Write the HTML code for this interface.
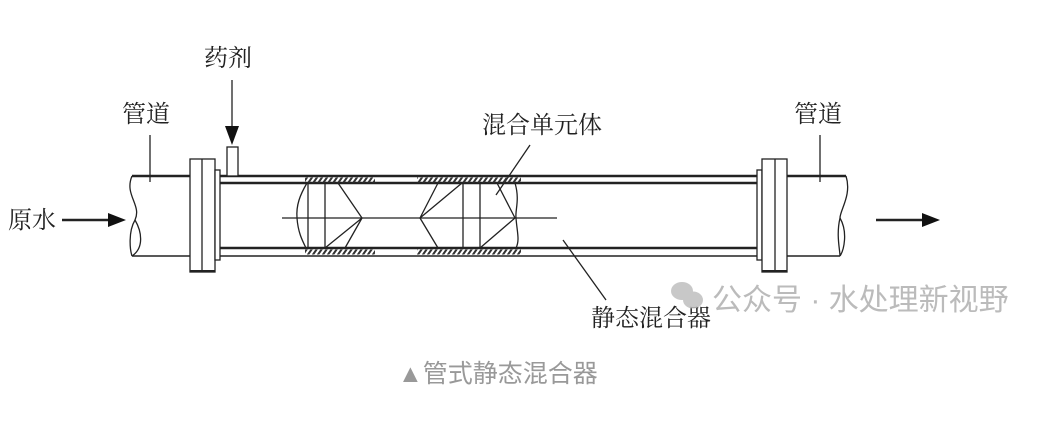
<!DOCTYPE html>
<html><head><meta charset="utf-8"><style>
html,body{margin:0;padding:0;background:#fff;}
svg{display:block;}
.l{font-family:"Liberation Serif","Noto Serif CJK SC",serif;font-size:24px;fill:#222;}
</style></head><body>
<svg width="1050" height="424" viewBox="0 0 1050 424" xmlns="http://www.w3.org/2000/svg">
<defs>
<pattern id="h" width="5" height="7" patternUnits="userSpaceOnUse" patternTransform="skewX(-35)">
<rect x="0" y="0" width="2.5" height="7" fill="#333"/>
</pattern>
</defs>
<g stroke="#222" fill="none" stroke-width="1.3">
<line x1="132" y1="176" x2="190" y2="176" stroke-width="2.5"/>
<line x1="132" y1="256" x2="190" y2="256" stroke-width="1.5"/>
<path d="M132 176 C124 195,142 205,135 220 C128 232,130 250,132 256"/>
<path d="M135 220 C142 232,144 248,132 256"/>
<rect x="190" y="159" width="25" height="113" fill="#fff"/>
<line x1="202" y1="159" x2="202" y2="272"/>
<line x1="190" y1="271" x2="215" y2="271" stroke-width="2"/>
<rect x="215" y="170" width="5" height="90" fill="#fff"/>
<line x1="220" y1="176" x2="757" y2="176" stroke-width="2.5"/>
<line x1="220" y1="183" x2="757" y2="183" stroke-width="2.5"/>
<line x1="220" y1="248" x2="757" y2="248" stroke-width="2.5"/>
<line x1="220" y1="256" x2="757" y2="256" stroke-width="1.5"/>
<rect x="227" y="147" width="11" height="29" fill="#fff"/>
<line x1="232" y1="80" x2="232" y2="130"/>
<rect x="757" y="170" width="5" height="90" fill="#fff"/>
<rect x="762" y="159" width="25" height="113" fill="#fff"/>
<line x1="775" y1="159" x2="775" y2="272"/>
<line x1="762" y1="271" x2="787" y2="271" stroke-width="2"/>
<line x1="787" y1="176" x2="846" y2="176" stroke-width="2.5"/>
<line x1="787" y1="256" x2="840" y2="256" stroke-width="1.5"/>
<path d="M846 176 C852 195,840 210,840 218 C836 235,840 250,840 256"/>
<path d="M840 218 C848 232,844 250,840 256"/>
<line x1="282" y1="218" x2="557" y2="218" stroke-width="1.2"/>
<path d="M307 183 C300 195,296 205,297 218 C298 232,302 240,306 248"/>
<line x1="308" y1="183" x2="308" y2="248"/>
<line x1="325" y1="183" x2="325" y2="248"/>
<path d="M338 183 L362 218 L325 248 M362 218 L345 248"/>
<path d="M438 183 L420 218 L462 183 M420 218 L438 248"/>
<line x1="463" y1="183" x2="463" y2="248"/>
<line x1="480" y1="183" x2="480" y2="248"/>
<path d="M497 183 L515 218 L480 248"/>
<path d="M515 183 C520 200,515 210,516 218 C517 232,520 240,516 248"/>
<line x1="150" y1="135" x2="150" y2="182"/>
<line x1="820" y1="135" x2="820" y2="182"/>
<line x1="530" y1="145" x2="496" y2="195"/>
<line x1="563" y1="240" x2="606" y2="300"/>
<line x1="62" y1="220" x2="112" y2="220" stroke-width="2.5"/>
<line x1="876" y1="220" x2="925" y2="220" stroke-width="2.5"/>
</g>
<g fill="#111">
<polygon points="108,213 126,220 108,227"/>
<polygon points="922,213 940,220 922,227"/>
<polygon points="225,126 239,126 232,145"/>
</g>
<rect x="305" y="177.5" width="70" height="5" fill="url(#h)"/>
<rect x="417" y="177.5" width="104" height="5" fill="url(#h)"/>
<rect x="305" y="249.5" width="70" height="5" fill="url(#h)"/>
<rect x="417" y="249.5" width="104" height="5" fill="url(#h)"/>
<text class="l" x="204" y="66">药剂</text>
<text class="l" x="122" y="122">管道</text>
<text class="l" x="794" y="122">管道</text>
<text class="l" x="482" y="133">混合单元体</text>
<text class="l" x="8" y="228">原水</text>
<text class="l" x="591" y="326">静态混合器</text>
<g fill="#bbb" opacity="0.8">
<ellipse cx="682" cy="291" rx="11" ry="9"/>
<ellipse cx="693" cy="300" rx="10" ry="8.5"/>
</g>
<text x="712" y="310" font-family="Liberation Sans,'Noto Sans CJK SC',sans-serif" font-size="30" fill="#bbb">公众号 · 水处理新视野</text>
<text x="398" y="382" font-family="Liberation Sans,'Noto Sans CJK SC',sans-serif" font-size="25" fill="#999">▲管式静态混合器</text>
</svg>
</body></html>
